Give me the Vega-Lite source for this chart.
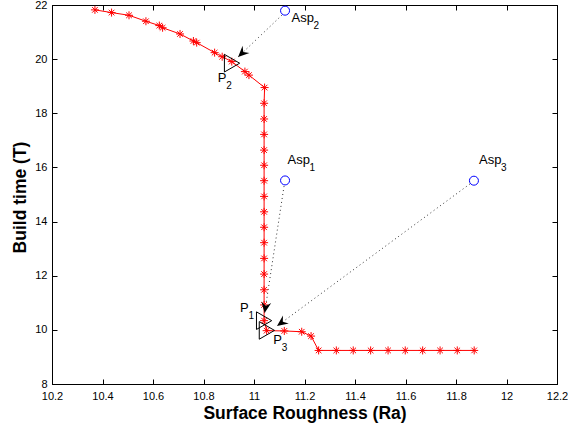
{
  "$schema": "https://vega.github.io/schema/vega-lite/v6.json",
  "width": 505,
  "height": 379,
  "autosize": {"type": "none"},
  "padding": {"left": 52, "top": 5, "right": 11, "bottom": 46},
  "background": "white",
  "config": {
    "font": "Liberation Sans",
    "view": {"stroke": "black", "strokeWidth": 1},
    "axis": {"grid": false}
  },
  "datasets": {
    "curve": [
      {"i": 1, "x": 10.370, "y": 21.82},
      {"i": 2, "x": 10.436, "y": 21.72},
      {"i": 3, "x": 10.505, "y": 21.62},
      {"i": 4, "x": 10.572, "y": 21.40},
      {"i": 5, "x": 10.625, "y": 21.24},
      {"i": 6, "x": 10.638, "y": 21.16},
      {"i": 7, "x": 10.707, "y": 20.93},
      {"i": 8, "x": 10.760, "y": 20.67},
      {"i": 9, "x": 10.773, "y": 20.61},
      {"i": 10, "x": 10.844, "y": 20.24},
      {"i": 11, "x": 10.874, "y": 20.09},
      {"i": 12, "x": 10.912, "y": 19.91},
      {"i": 13, "x": 10.964, "y": 19.54},
      {"i": 14, "x": 10.980, "y": 19.41},
      {"i": 15, "x": 11.042, "y": 18.95},
      {"i": 16, "x": 11.040, "y": 18.37},
      {"i": 17, "x": 11.040, "y": 17.79},
      {"i": 18, "x": 11.040, "y": 17.22},
      {"i": 19, "x": 11.040, "y": 16.64},
      {"i": 20, "x": 11.040, "y": 16.08},
      {"i": 21, "x": 11.040, "y": 15.51},
      {"i": 22, "x": 11.040, "y": 14.93},
      {"i": 23, "x": 11.040, "y": 14.36},
      {"i": 24, "x": 11.040, "y": 13.79},
      {"i": 25, "x": 11.040, "y": 13.22},
      {"i": 26, "x": 11.040, "y": 12.64},
      {"i": 27, "x": 11.040, "y": 12.06},
      {"i": 28, "x": 11.040, "y": 11.48},
      {"i": 29, "x": 11.040, "y": 10.92},
      {"i": 30, "x": 11.040, "y": 10.34},
      {"i": 31, "x": 11.050, "y": 9.97},
      {"i": 32, "x": 11.120, "y": 9.96},
      {"i": 33, "x": 11.189, "y": 9.93},
      {"i": 34, "x": 11.226, "y": 9.77},
      {"i": 35, "x": 11.256, "y": 9.24},
      {"i": 36, "x": 11.326, "y": 9.24},
      {"i": 37, "x": 11.393, "y": 9.24},
      {"i": 38, "x": 11.462, "y": 9.24},
      {"i": 39, "x": 11.531, "y": 9.24},
      {"i": 40, "x": 11.599, "y": 9.24},
      {"i": 41, "x": 11.668, "y": 9.24},
      {"i": 42, "x": 11.737, "y": 9.24},
      {"i": 43, "x": 11.805, "y": 9.24},
      {"i": 44, "x": 11.872, "y": 9.24}
    ],
    "arrows": [
      {"a": "2", "i": 0, "x": 11.111, "y": 21.63},
      {"a": "2", "i": 1, "x": 10.937, "y": 20.08},
      {"a": "1", "i": 0, "x": 11.119, "y": 15.31},
      {"a": "1", "i": 1, "x": 11.042, "y": 10.62},
      {"a": "3", "i": 0, "x": 11.855, "y": 15.39},
      {"a": "3", "i": 1, "x": 11.091, "y": 10.14}
    ],
    "asp": [
      {"name": "Asp1", "x": 11.123, "y": 15.52},
      {"name": "Asp2", "x": 11.123, "y": 21.79},
      {"name": "Asp3", "x": 11.871, "y": 15.51}
    ],
    "pts": [
      {"name": "P1", "x": 11.040, "y": 10.34},
      {"name": "P2", "x": 10.913, "y": 19.85},
      {"name": "P3", "x": 11.051, "y": 9.98}
    ],
    "labels": [
      {"m": "Asp", "s": "2", "x": 11.149, "y": 21.372},
      {"m": "Asp", "s": "1", "x": 11.133, "y": 16.145},
      {"m": "Asp", "s": "3", "x": 11.891, "y": 16.126},
      {"m": "P", "s": "2", "x": 10.856, "y": 19.167},
      {"m": "P", "s": "1", "x": 10.945, "y": 10.670},
      {"m": "P", "s": "3", "x": 11.076, "y": 9.477}
    ]
  },
  "encoding": {
    "x": {"field": "x", "type": "quantitative", "scale": {"domain": [10.2, 12.2], "nice": false, "zero": false}, "axis": null},
    "y": {"field": "y", "type": "quantitative", "scale": {"domain": [8, 22], "nice": false, "zero": false}, "axis": null}
  },
  "layer": [
    {
      "data": {"name": "arrows"},
      "mark": {"type": "line", "color": "#333333", "strokeWidth": 1, "strokeDash": [1, 3]},
      "encoding": {
        "x": {
          "field": "x", "type": "quantitative",
          "scale": {"domain": [10.2, 12.2], "nice": false, "zero": false},
          "axis": {
            "orient": "bottom",
            "values": [10.2, 10.4, 10.6, 10.8, 11, 11.2, 11.4, 11.6, 11.8, 12, 12.2],
            "format": "~g",
            "labelFontSize": 11, "labelColor": "black",
            "tickSize": -5, "tickColor": "black", "labelPadding": 11,
            "domainColor": "black", "labelFlush": false, "labelOverlap": false,
            "title": "Surface Roughness (Ra)", "titleFontSize": 17.5, "titleFontWeight": "bold",
            "titleColor": "black", "titleY": 34, "titleBaseline": "alphabetic"
          }
        },
        "y": {
          "field": "y", "type": "quantitative",
          "scale": {"domain": [8, 22], "nice": false, "zero": false},
          "axis": {
            "orient": "left",
            "values": [8, 10, 12, 14, 16, 18, 20, 22],
            "format": "~g",
            "labelFontSize": 11, "labelColor": "black",
            "tickSize": -5, "tickColor": "black", "labelPadding": 10,
            "domainColor": "black", "labelFlush": false, "labelOverlap": false,
            "title": "Build time (T)", "titleFontSize": 17.5, "titleFontWeight": "bold",
            "titleColor": "black", "titleX": -26.5, "titleY": 192, "titleBaseline": "alphabetic", "titleAngle": -90, "titleAlign": "center"
          }
        },
        "detail": {"field": "a"},
        "order": {"field": "i", "type": "quantitative"}
      }
    },
    {
      "data": {"name": "curve"},
      "mark": {"type": "line", "color": "#ff0000", "strokeWidth": 1},
      "encoding": {
        "x": {
          "field": "x", "type": "quantitative",
          "scale": {"domain": [10.2, 12.2], "nice": false, "zero": false},
          "axis": {
            "orient": "top",
            "values": [10.2, 10.4, 10.6, 10.8, 11, 11.2, 11.4, 11.6, 11.8, 12, 12.2],
            "labels": false, "tickSize": -5, "tickColor": "black", "domainColor": "black", "title": null
          }
        },
        "y": {
          "field": "y", "type": "quantitative",
          "scale": {"domain": [8, 22], "nice": false, "zero": false},
          "axis": {
            "orient": "right",
            "values": [8, 10, 12, 14, 16, 18, 20, 22],
            "labels": false, "tickSize": -5, "tickColor": "black", "domainColor": "black", "title": null
          }
        },
        "order": {"field": "i", "type": "quantitative"}
      }
    },
    {
      "data": {"name": "curve"},
      "mark": {
        "type": "point", "filled": false, "stroke": "#ff0000", "strokeWidth": 1, "opacity": 1, "size": 64,
        "shape": "M-1,0L1,0M0,-1L0,1M-0.7,-0.7L0.7,0.7M-0.7,0.7L0.7,-0.7"
      }
    },
    {
      "data": {"name": "asp"},
      "mark": {"type": "point", "shape": "circle", "filled": false, "stroke": "#0000ff", "strokeWidth": 1, "opacity": 1, "size": 81}
    },
    {
      "data": {"name": "pts"},
      "mark": {"type": "point", "shape": "triangle-right", "filled": false, "stroke": "black", "strokeWidth": 1, "opacity": 1, "size": 310}
    },
    {
      "data": {"name": "arrows"},
      "transform": [{"filter": "datum.a == '2' && datum.i == 1"}],
      "mark": {"type": "point", "filled": true, "fill": "black", "strokeWidth": 0, "opacity": 1, "size": 484, "angle": 226,
        "shape": "M0,0L0.45,1L0,0.65L-0.45,1Z"}
    },
    {
      "data": {"name": "arrows"},
      "transform": [{"filter": "datum.a == '1' && datum.i == 1"}],
      "mark": {"type": "point", "filled": true, "fill": "black", "strokeWidth": 0, "opacity": 1, "size": 484, "angle": 189,
        "shape": "M0,0L0.45,1L0,0.65L-0.45,1Z"}
    },
    {
      "data": {"name": "arrows"},
      "transform": [{"filter": "datum.a == '3' && datum.i == 1"}],
      "mark": {"type": "point", "filled": true, "fill": "black", "strokeWidth": 0, "opacity": 1, "size": 484, "angle": 234,
        "shape": "M0,0L0.45,1L0,0.65L-0.45,1Z"}
    },
    {
      "data": {"name": "labels"},
      "mark": {"type": "text", "align": "left", "baseline": "alphabetic", "fontSize": 13, "color": "black"},
      "encoding": {"text": {"field": "m"}}
    },
    {
      "data": {"name": "labels"},
      "transform": [{"filter": "datum.m == 'P'"}],
      "mark": {"type": "text", "align": "left", "baseline": "alphabetic", "fontSize": 10, "color": "black", "dx": 8.5, "dy": 7},
      "encoding": {"text": {"field": "s"}}
    },
    {
      "data": {"name": "labels"},
      "transform": [{"filter": "datum.m == 'Asp'"}],
      "mark": {"type": "text", "align": "left", "baseline": "alphabetic", "fontSize": 10, "color": "black", "dx": 22, "dy": 7},
      "encoding": {"text": {"field": "s"}}
    }
  ],
  "resolve": {"axis": {"x": "independent", "y": "independent"}}
}
